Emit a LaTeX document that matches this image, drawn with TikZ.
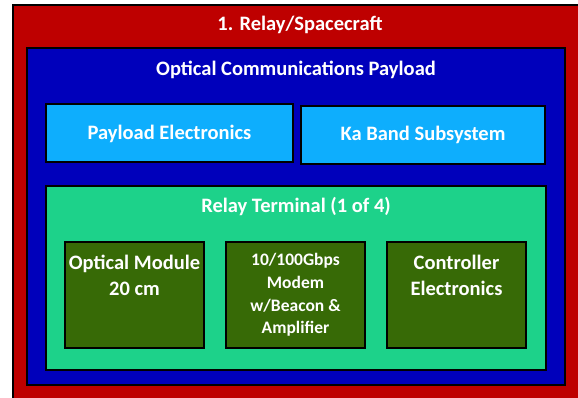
\documentclass[tikz,border=0pt]{standalone}
\usepackage{fontspec}
\setmainfont{Carlito}
\definecolor{redc}{HTML}{BE0000}
\definecolor{bluec}{HTML}{0000BB}
\definecolor{lbluec}{HTML}{0EAEFD}
\definecolor{greenc}{HTML}{1DD28A}
\definecolor{dgreenc}{HTML}{376A06}
\begin{document}
\begin{tikzpicture}[x=1pt,y=-1pt,
  boxst/.style={draw=black,line width=1.2pt,anchor=north west,inner sep=0pt,outer sep=0pt},
  txt/.style={text=white,font=\bfseries\fontsize{20.5}{26}\selectfont,align=center,inner sep=0pt},
  smalltxt/.style={text=white,font=\bfseries\fontsize{17.5}{22.7}\selectfont,align=center,inner sep=0pt}]
\useasboundingbox (0,0) rectangle (578,397);
\clip (0,0) rectangle (578,397);
\node[boxst,fill=redc,minimum width=570pt,minimum height=400pt] (red) at (13,5) {};
\node[boxst,fill=bluec,minimum width=538pt,minimum height=337pt] (blue) at (27,48) {};
\node[boxst,fill=lbluec,minimum width=247pt,minimum height=58pt] (pe) at (46,104) {};
\node[boxst,fill=lbluec,minimum width=244pt,minimum height=58pt] (ka) at (301,106) {};
\node[boxst,fill=greenc,minimum width=500pt,minimum height=184pt] (rt) at (46,186) {};
\node[boxst,fill=dgreenc,minimum width=139pt,minimum height=106pt] (om) at (65,242) {};
\node[boxst,fill=dgreenc,minimum width=139pt,minimum height=106pt] (md) at (226,242) {};
\node[boxst,fill=dgreenc,minimum width=139pt,minimum height=106pt] (ce) at (387,242) {};
\node[txt] (tred) at (300,25) {1. Relay/Spacecraft};
\node[txt] (tblue) at (296,70) {Optical Communications Payload};
\node[txt] (tpe) at ([yshift=-1pt]pe.center) {Payload Electronics};
\node[txt] (tka) at (ka.center) {Ka Band Subsystem};
\node[txt] (trt) at (296,206) {Relay Terminal (1 of 4)};
\node[txt] (tom) at (om.center |- 0,275) {Optical Module\\20 cm};
\node[smalltxt] (tmd) at (md.center |- 0,295) {10/100Gbps\\Modem\\w/Beacon \&\\Amplifier};
\node[txt] (tce) at (ce.center |- 0,275) {Controller\\Electronics};
\end{tikzpicture}
\end{document}
